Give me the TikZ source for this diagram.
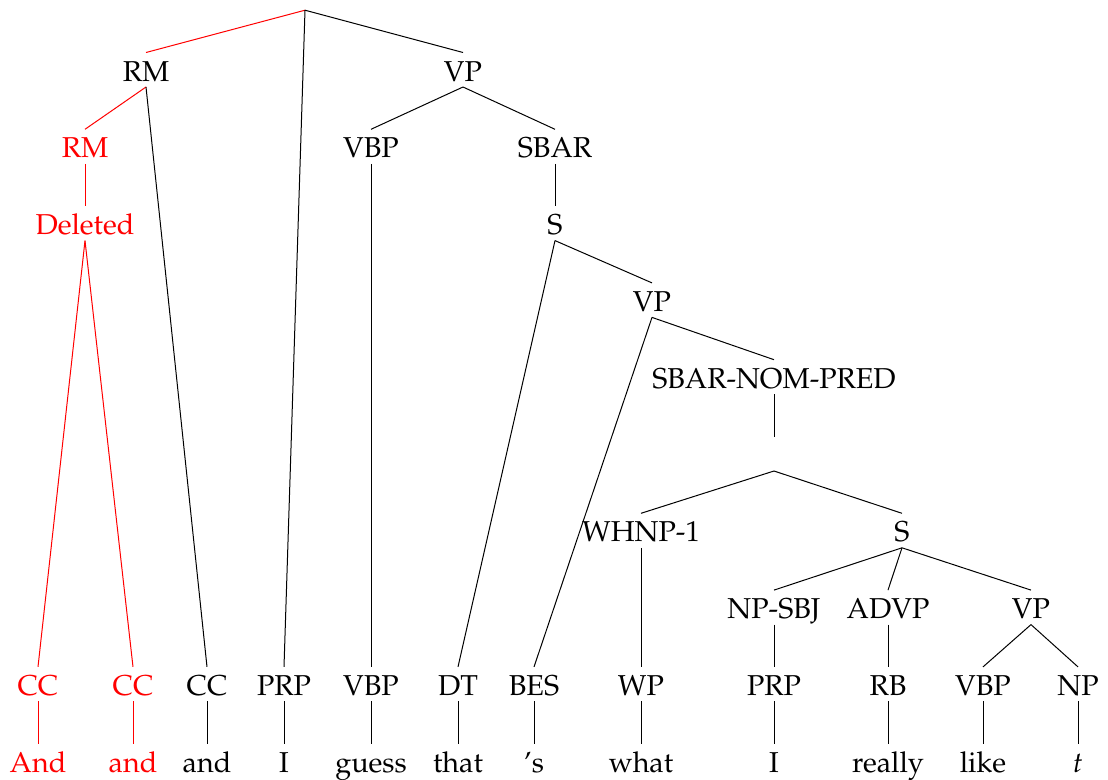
\documentclass[tikz,border=0pt]{standalone}
\usepackage[T1]{fontenc}
\usepackage{mathpazo}
\begin{document}
\begin{tikzpicture}[x=0.4pt,y=-0.4pt,
  lbl/.style={anchor=base,inner sep=0pt,text height=11.2pt,text depth=2.2pt,font=\fontsize{11.5}{13}\selectfont},
  del/.style={lbl,text=red},
  edge/.style={line width=0.4pt,black},
  deledge/.style={line width=0.4pt,red}]
\useasboundingbox (0,0) rectangle (1108,780);
% level baselines: 81 + (L-1)*76.8
\def\Lzero{4.2}\def\Lone{81}\def\Ltwo{157.8}\def\Lthree{234.6}\def\Lfour{311.4}
\def\Lfive{388.2}\def\Lsix{465}\def\Lseven{541.8}\def\Leight{618.6}\def\Lnine{695.4}\def\Lten{772.2}
% internal nodes
\node[lbl] (root) at (305,\Lzero) {};
\node[lbl] (rm) at (146,\Lone) {RM};
\node[lbl] (vp) at (463,\Lone) {VP};
\node[del] (rm2) at (85,\Ltwo) {RM};
\node[lbl] (vbp) at (371,\Ltwo) {VBP};
\node[lbl] (sbar) at (555,\Ltwo) {SBAR};
\node[del] (deleted) at (85,\Lthree) {Deleted};
\node[lbl] (s) at (555,\Lthree) {S};
\node[lbl] (vp2) at (652,\Lfour) {VP};
\node[lbl] (snp) at (774,\Lfive) {SBAR-NOM-PRED};
\node[lbl] (blank) at (774,\Lsix) {};
\node[lbl] (whnp) at (641,\Lseven) {WHNP-1};
\node[lbl] (s2) at (902,\Lseven) {S};
\node[lbl] (npsbj) at (774,\Leight) {NP-SBJ};
\node[lbl] (advp) at (888,\Leight) {ADVP};
\node[lbl] (vp3) at (1031,\Leight) {VP};
% part-of-speech row
\node[del] (cc1) at (38,\Lnine) {CC};
\node[del] (cc2) at (133,\Lnine) {CC};
\node[lbl] (cc3) at (207,\Lnine) {CC};
\node[lbl] (prp) at (284,\Lnine) {PRP};
\node[lbl] (vbpl) at (371,\Lnine) {VBP};
\node[lbl] (dt) at (458,\Lnine) {DT};
\node[lbl] (bes) at (534,\Lnine) {BES};
\node[lbl] (wp) at (641,\Lnine) {WP};
\node[lbl] (prp2) at (774,\Lnine) {PRP};
\node[lbl] (rb) at (888,\Lnine) {RB};
\node[lbl] (vbp2) at (983,\Lnine) {VBP};
\node[lbl] (np) at (1078,\Lnine) {NP};
% words
\node[del] (w1) at (38,\Lten) {And};
\node[del] (w2) at (133,\Lten) {and};
\node[lbl] (w3) at (207,\Lten) {and};
\node[lbl] (w4) at (284,\Lten) {I};
\node[lbl] (w5) at (371,\Lten) {guess};
\node[lbl] (w6) at (458,\Lten) {that};
\node[lbl] (w7) at (534,\Lten) {'s};
\node[lbl] (w8) at (641,\Lten) {what};
\node[lbl] (w9) at (774,\Lten) {I};
\node[lbl] (w10) at (888,\Lten) {really};
\node[lbl] (w11) at (983,\Lten) {like};
\node[lbl] (w12) at (1078,\Lten) {\textit{t}};
% deleted reparandum branch
\draw[deledge] (root.south) -- (rm.north);
\draw[deledge] (rm.south) -- (rm2.north);
\draw[deledge] (rm2.south) -- (deleted.north);
\draw[deledge] (deleted.south) -- (cc1.north);
\draw[deledge] (deleted.south) -- (cc2.north);
\draw[deledge] (cc1.south) -- (w1.north);
\draw[deledge] (cc2.south) -- (w2.north);
% remaining tree
\draw[edge] (rm.south) -- (cc3.north);
\draw[edge] (root.south) -- (prp.north);
\draw[edge] (root.south) -- (vp.north);
\draw[edge] (vp.south) -- (vbp.north);
\draw[edge] (vp.south) -- (sbar.north);
\draw[edge] (vbp.south) -- (vbpl.north);
\draw[edge] (sbar.south) -- (s.north);
\draw[edge] (s.south) -- (dt.north);
\draw[edge] (s.south) -- (vp2.north);
\draw[edge] (vp2.south) -- (bes.north);
\draw[edge] (vp2.south) -- (snp.north);
\draw[edge] (snp.south) -- (blank.north);
\draw[edge] (blank.south) -- (whnp.north);
\draw[edge] (blank.south) -- (s2.north);
\draw[edge] (whnp.south) -- (wp.north);
\draw[edge] (s2.south) -- (npsbj.north);
\draw[edge] (s2.south) -- (advp.north);
\draw[edge] (s2.south) -- (vp3.north);
\draw[edge] (npsbj.south) -- (prp2.north);
\draw[edge] (advp.south) -- (rb.north);
\draw[edge] (vp3.south) -- (vbp2.north);
\draw[edge] (vp3.south) -- (np.north);
\foreach \p/\w in {cc3/w3,prp/w4,vbpl/w5,dt/w6,bes/w7,wp/w8,prp2/w9,rb/w10,vbp2/w11,np/w12}
  \draw[edge] (\p.south) -- (\w.north);
\end{tikzpicture}
\end{document}
